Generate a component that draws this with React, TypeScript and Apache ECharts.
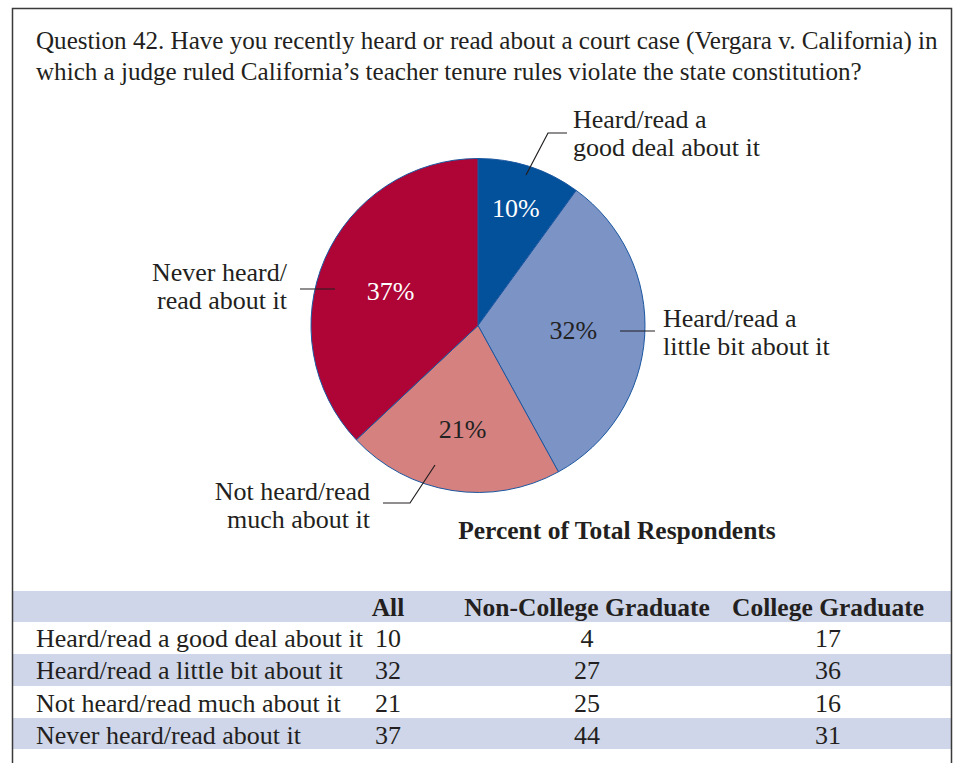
import React, { useEffect, useRef } from "react";
import * as echarts from "echarts";

const TITLE_LINES = [
  "Question 42. Have you recently heard or read about a court case (Vergara v. California) in",
  "which a judge ruled California\u2019s teacher tenure rules violate the state constitution?",
];
const CATEGORIES = [
  "Heard/read a good deal about it",
  "Heard/read a little bit about it",
  "Not heard/read much about it",
  "Never heard/read about it",
];
const PIE_LABELS = [
  "Heard/read a\ngood deal about it",
  "Heard/read a\nlittle bit about it",
  "Not heard/read\nmuch about it",
  "Never heard/\nread about it",
];
const ALL = [10, 32, 21, 37];
const NON_COLLEGE = [4, 27, 25, 44];
const COLLEGE = [17, 36, 16, 31];
const COLUMNS = ["All", "Non-College Graduate", "College Graduate"];
const SUBTITLE = "Percent of Total Respondents";

const COLORS = ["#03509b", "#7c93c6", "#d5817f", "#ae0536"];
const LABEL_COLORS = ["#ffffff", "#222222", "#222222", "#ffffff"];
const LABEL_SHIFT = [
  [11, -35],
  [9, 0],
  [-2, 19],
  [-8, 0],
];

const FONT = "'Liberation Serif', 'Times New Roman', serif";
const TEXT = "#231f20";

export default function App() {
  const ref = useRef<HTMLDivElement>(null);
  useEffect(() => {
    document.body.style.margin = "0";
    const chart = echarts.init(ref.current!, null, { renderer: "svg" });

    const graphic: any[] = [];
    graphic.push({
      type: "rect",
      shape: { x: 12.5, y: 8.5, width: 939, height: 800 },
      style: { fill: "none", stroke: "#3a3a3a", lineWidth: 1.5 },
      z: 10,
    });
    TITLE_LINES.forEach((t, i) => {
      graphic.push({
        type: "text",
        x: 36,
        y: 40 + i * 31,
        style: { text: t, font: `25.1px ${FONT}`, fill: TEXT, verticalAlign: "middle", textAlign: "left" },
      });
    });

    // outer pie annotations
    const ann = [
      { x: 573, y: 119, align: "left" },
      { x: 663, y: 318, align: "left" },
      { x: 370, y: 491, align: "right" },
      { x: 287, y: 272, align: "right" },
    ];
    PIE_LABELS.forEach((t, i) => {
      t.split("\n").forEach((line, j) => {
        graphic.push({
          type: "text",
          x: ann[i].x,
          y: ann[i].y + j * 28,
          style: { text: line, font: `26px ${FONT}`, fill: TEXT, verticalAlign: "middle", textAlign: ann[i].align },
        });
      });
    });
    const leaders = [
      [[526, 175], [548, 133], [567, 133]],
      [[620, 331], [655, 331]],
      [[435, 465], [410, 503], [383, 503]],
      [[300, 289], [335, 289]],
    ];
    leaders.forEach((pts) => {
      graphic.push({
        type: "polyline",
        shape: { points: pts },
        style: { stroke: "#231f20", lineWidth: 1.2, fill: "none" },
        z: 5,
      });
    });

    graphic.push({
      type: "text",
      x: 617,
      y: 530,
      style: { text: SUBTITLE, font: `bold 25.5px ${FONT}`, fill: TEXT, verticalAlign: "middle", textAlign: "center" },
    });

    // table
    const rowY = [607, 638, 670, 703, 735];
    const bands = [
      [591, 31],
      [654, 32],
      [718, 31],
    ];
    bands.forEach(([y, h]) => {
      graphic.push({
        type: "rect",
        shape: { x: 13, y, width: 938, height: h },
        style: { fill: "#cfd6e9" },
        z: 1,
      });
    });
    const colX = [388, 587, 828];
    COLUMNS.forEach((c, i) => {
      graphic.push({
        type: "text",
        x: colX[i],
        y: rowY[0],
        style: { text: c, font: `bold 25.5px ${FONT}`, fill: TEXT, verticalAlign: "middle", textAlign: "center" },
        z: 2,
      });
    });
    CATEGORIES.forEach((cat, r) => {
      const y = rowY[r + 1];
      graphic.push({
        type: "text",
        x: 36,
        y,
        style: { text: cat, font: `26px ${FONT}`, fill: TEXT, verticalAlign: "middle", textAlign: "left" },
        z: 2,
      });
      [ALL[r], NON_COLLEGE[r], COLLEGE[r]].forEach((v, c) => {
        graphic.push({
          type: "text",
          x: colX[c],
          y,
          style: { text: String(v), font: `26px ${FONT}`, fill: TEXT, verticalAlign: "middle", textAlign: "center" },
          z: 2,
        });
      });
    });

    chart.setOption({
      animation: false,
      backgroundColor: "#ffffff",
      graphic,
      series: [
        {
          type: "pie",
          center: [478, 325.5],
          radius: 167,
          startAngle: 90,
          clockwise: true,
          data: CATEGORIES.map((name, i) => ({
            name,
            value: ALL[i],
            itemStyle: { color: COLORS[i] },
            label: { color: LABEL_COLORS[i] },
          })),
          itemStyle: { borderColor: "#1b57a0", borderWidth: 1 },
          label: {
            show: true,
            position: "inside",
            formatter: "{c}%",
            fontFamily: FONT,
            fontSize: 26,
          },
          labelLine: { show: false },
          labelLayout: (p: any) => ({ dx: LABEL_SHIFT[p.dataIndex][0], dy: LABEL_SHIFT[p.dataIndex][1] }),
          emphasis: { disabled: true },
        },
      ],
    });
    return () => chart.dispose();
  }, []);
  return <div ref={ref} style={{ width: 954, height: 763 }} />;
}
